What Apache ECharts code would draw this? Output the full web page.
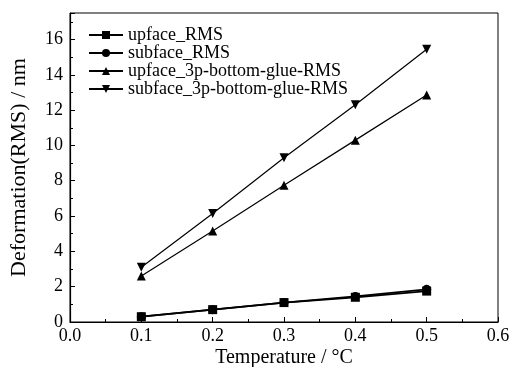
<!DOCTYPE html>
<html>
<head>
<meta charset="utf-8">
<script src="https://cdn.jsdelivr.net/npm/echarts@6/dist/echarts.min.js"></script>
<style>
  html, body { margin: 0; padding: 0; background: #fff; }
  #chart { width: 509px; height: 367px; }
</style>
</head>
<body>
<div id="chart"></div>
<script>
  // temperatures (°C)
  const temps = [0.1, 0.2, 0.3, 0.4, 0.5];
  const upfaceRms = [0.3, 0.7, 1.1, 1.4, 1.75];
  const subfaceRms = [0.3, 0.7, 1.1, 1.45, 1.85];
  const upface3p = [2.6, 5.15, 7.75, 10.3, 12.85];
  const subface3p = [3.1, 6.15, 9.3, 12.3, 15.45];
  const seriesNames = [
    'upface_RMS',
    'subface_RMS',
    'upface_3p-bottom-glue-RMS',
    'subface_3p-bottom-glue-RMS',
  ];

  const font = 'Liberation Serif';
  const pairs = (ys) => temps.map((t, i) => [t, ys[i]]);

  const chart = echarts.init(document.getElementById('chart'));

  const mkSeries = (name, ys, symbol, size, width) => ({
    name: name,
    type: 'line',
    data: pairs(ys),
    symbol: symbol,
    symbolSize: size,
    showSymbol: true,
    lineStyle: { color: '#000', width: width },
    itemStyle: { color: '#000' },
    emphasis: { disabled: true },
  });

  chart.setOption({
    animation: false,
    grid: {
      left: 70,
      right: 11,
      top: 13,
      bottom: 45,
      outerBoundsMode: 'none',
      containLabel: false,
      show: true,
      borderColor: '#000',
      borderWidth: 1,
    },
    legend: {
      left: 83,
      top: 21,
      orient: 'vertical',
      itemGap: 0,
      itemWidth: 34,
      itemHeight: 10,
      textStyle: { fontFamily: font, fontSize: 18, color: '#000' },
      data: seriesNames,
    },
    xAxis: {
      type: 'value',
      min: 0,
      max: 0.6,
      interval: 0.1,
      name: 'Temperature / °C',
      nameLocation: 'middle',
      nameGap: 26,
      nameMoveOverlap: false,
      nameTextStyle: { fontFamily: font, fontSize: 20, color: '#000' },
      axisLine: { lineStyle: { color: '#000', width: 1.2 } },
      axisTick: { inside: true, length: 5, lineStyle: { color: '#000' } },
      minorTick: { show: true, splitNumber: 2, length: 3, lineStyle: { color: '#000' } },
      splitLine: { show: false },
      axisLabel: {
        fontFamily: font,
        fontSize: 18,
        color: '#000',
        margin: 5,
        formatter: (v) => v.toFixed(1),
      },
    },
    yAxis: {
      type: 'value',
      min: 0,
      max: 17.5,
      interval: 2,
      name: 'Deformation(RMS) / nm',
      nameLocation: 'middle',
      nameGap: 40,
      nameTextStyle: { fontFamily: font, fontSize: 22, color: '#000' },
      axisLine: { show: true, lineStyle: { color: '#000', width: 1.2 } },
      axisTick: { inside: true, length: 5, lineStyle: { color: '#000' } },
      minorTick: { show: true, splitNumber: 2, length: 3, lineStyle: { color: '#000' } },
      splitLine: { show: false },
      axisLabel: {
        fontFamily: font,
        fontSize: 18,
        color: '#000',
        margin: 7,
        showMaxLabel: false,
      },
    },
    series: [
      mkSeries(seriesNames[0], upfaceRms, 'rect', 9, 1.8),
      mkSeries(seriesNames[1], subfaceRms, 'circle', 9, 1.8),
      mkSeries(seriesNames[2], upface3p, 'triangle', 9, 1.2),
      mkSeries(seriesNames[3], subface3p, 'path://M0,0 L10,0 L5,9 Z', 9, 1.2),
    ],
  });
</script>
</body>
</html>
